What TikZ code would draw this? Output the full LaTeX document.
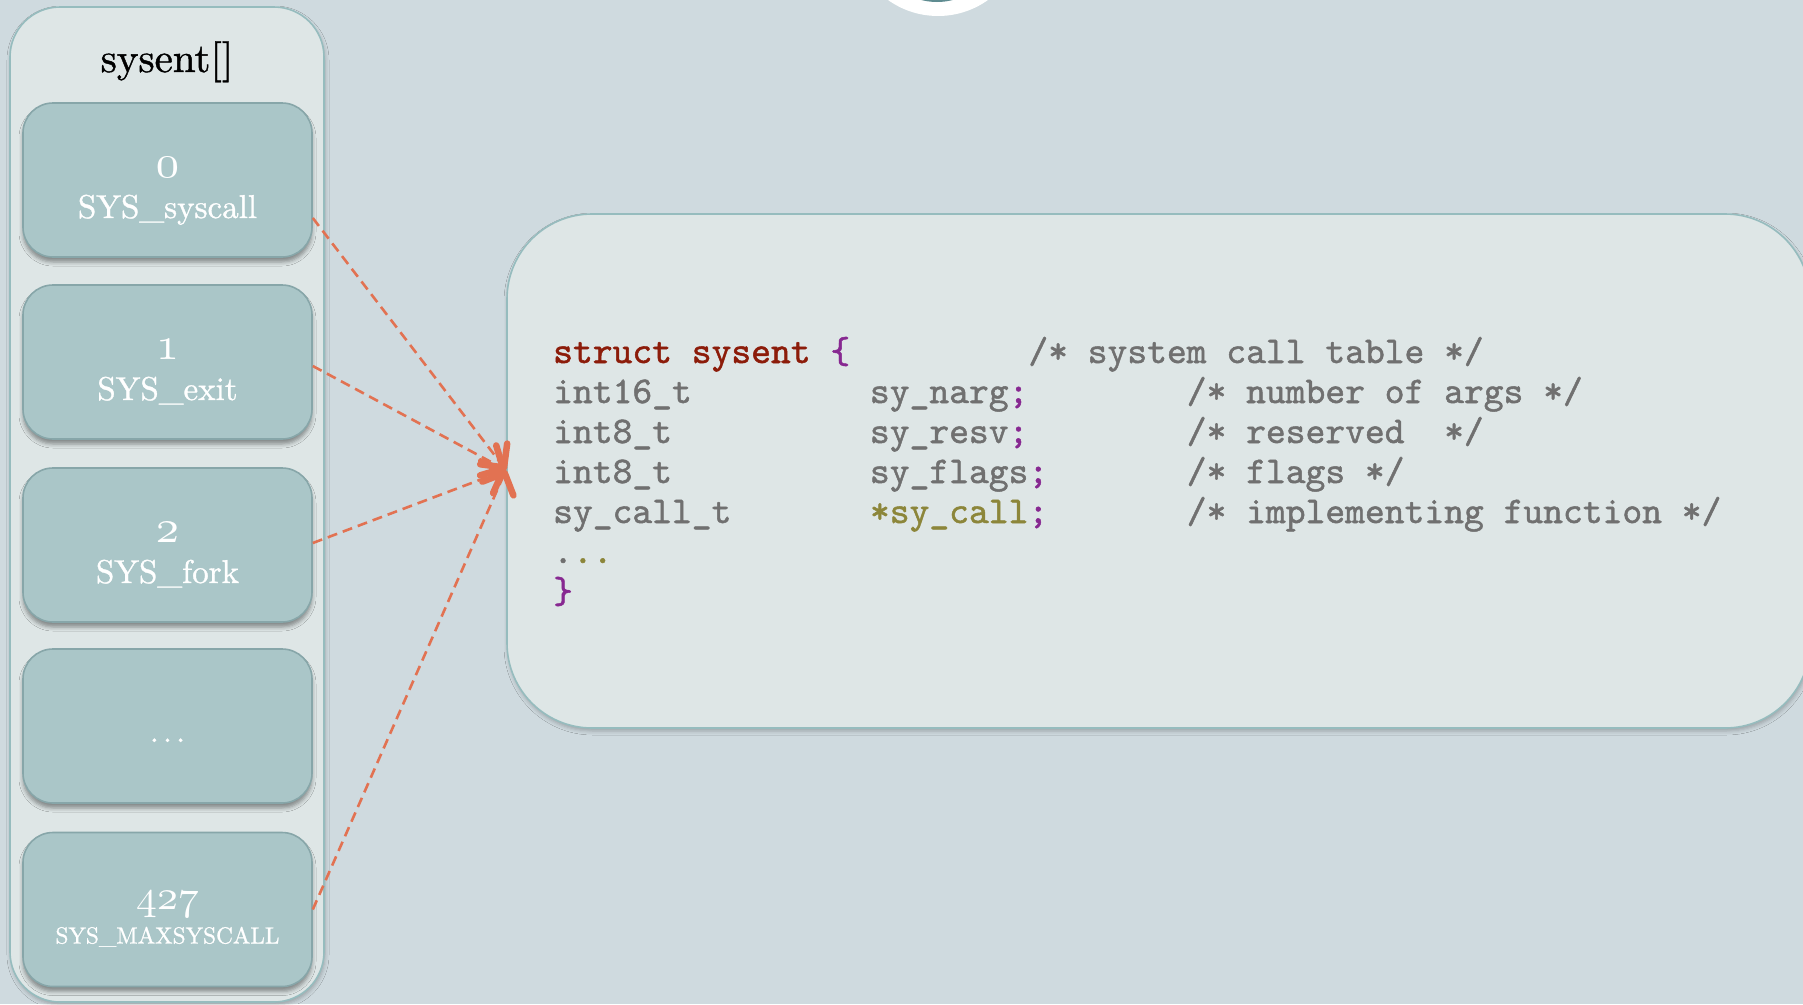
\documentclass[tikz,border=0pt]{standalone}
\usepackage{fontspec}
\usepackage{graphicx}
\usetikzlibrary{arrows.meta,shadows.blur}

% slightly heavier serif and typewriter faces
\newfontfamily\labelfont{lmroman10-regular.otf}[FakeBold=1]
\newfontfamily\codefont{lmmono10-regular.otf}[FakeBold=1.3]

\definecolor{bgc}{RGB}{207,218,223}
\definecolor{panelfill}{RGB}{222,230,230}
\definecolor{panelline}{RGB}{150,188,190}
\definecolor{slotfill}{RGB}{170,198,200}
\definecolor{slotline}{RGB}{135,166,169}
\definecolor{ptrcol}{RGB}{226,114,82}
\definecolor{kw}{RGB}{140,28,10}
\definecolor{pun}{RGB}{135,40,145}
\definecolor{gry}{RGB}{112,112,112}
\definecolor{olv}{RGB}{140,134,58}
\definecolor{knob}{RGB}{95,140,145}

% width of one monospaced character
\newlength\cw
\setlength\cw{19.8pt}

% old-style figures, scaled to a given height
\newcommand\osf[2]{\resizebox{!}{#1}{\usefont{OML}{lmm}{m}{it}#2}}

\begin{document}
\begin{tikzpicture}[x=1pt,y=-1pt,
  panelbox/.style={draw=panelline, line width=1.6pt, fill=panelfill,
    blur shadow={shadow xshift=1pt, shadow yshift=-3pt, shadow blur radius=4pt, shadow opacity=25}},
  slot/.style={draw=slotline, line width=1.6pt, fill=slotfill, rounded corners=30pt,
    minimum width=289pt, minimum height=154pt, inner sep=0pt,
    blur shadow={shadow xshift=0pt, shadow yshift=-5pt, shadow blur radius=4pt, shadow opacity=40}},
  num/.style={text=white, anchor=base, inner sep=0pt},
  sysname/.style={text=white, anchor=base, inner sep=0pt, font=\labelfont\fontsize{33}{40}\selectfont},
  codeline/.style={anchor=base west, inner sep=0pt, text=gry,
    font=\codefont\fontsize{37.714}{40}\selectfont},
  ptr/.style={draw=ptrcol, line width=2.6pt, dash pattern=on 10pt off 6pt,
    -{Straight Barb[length=17pt,width=34pt,line width=6.5pt,round]}}
]
\useasboundingbox (0,0) rectangle (1803,1004);
\fill[bgc] (0,0) rectangle (1803,1004);

% round badge at the top edge
\fill[white] (938,-70) circle[radius=86];
\fill[knob] (937,-60) circle[radius=62];

% the sysent[] table
\node[panelbox, rounded corners=50pt, minimum width=314pt, minimum height=995pt] (panel) at (167,504.5) {};
\node[anchor=base, inner sep=0pt, font=\labelfont\fontsize{41}{48}\selectfont] (title) at (167,72) {sysent[]};

\node[slot] (s0) at (167.5,180) {};
\node[slot] (s1) at (167.5,362) {};
\node[slot] (s2) at (167.5,545) {};
\node[slot] (s3) at (167.5,726) {};
\node[slot] (s4) at (167.5,909.5) {};

\node[num] (n0) at ([yshift=3pt]s0.center) {\osf{20pt}{0}};
\node[sysname] (m0) at ([yshift=-38pt]s0.center) {SYS\_syscall};
\node[num] (n1) at ([yshift=3pt]s1.center) {\osf{20pt}{1}};
\node[sysname] (m1) at ([yshift=-38pt]s1.center) {SYS\_exit};
\node[num] (n2) at ([yshift=3pt]s2.center) {\osf{20pt}{2}};
\node[sysname] (m2) at ([yshift=-38pt]s2.center) {SYS\_fork};
\node[sysname] (m3) at ([yshift=-16pt]s3.center) {.\kern4pt.\kern4pt.};
\node[num] (n4) at ([yshift=0pt]s4.center) {\osf{18pt}{427}};
\node[sysname, font=\labelfont\fontsize{23.3}{28}\selectfont] (m4) at ([yshift=-34pt]s4.center) {SYS\_MAXSYSCALL};

% struct sysent definition
\node[panelbox, rounded corners=85pt, minimum width=1303pt, minimum height=514pt] (code) at (1158.5,471) {};

\node[codeline] (c1) at (553,363) {\makebox[24\cw][l]{\textcolor{kw}{struct sysent} \textcolor{pun}{\{}}/* system call table */};
\node[codeline] (c2) at (553,403) {\makebox[16\cw][l]{int16\_t}\makebox[16\cw][l]{sy\_narg\textcolor{pun}{;}}/* number of args */};
\node[codeline] (c3) at (553,443) {\makebox[16\cw][l]{int8\_t}\makebox[16\cw][l]{sy\_resv\textcolor{pun}{;}}/* reserved\ \ */};
\node[codeline] (c4) at (553,483) {\makebox[16\cw][l]{int8\_t}\makebox[16\cw][l]{sy\_flags\textcolor{pun}{;}}/* flags */};
\node[codeline] (c5) at (553,523) {\makebox[16\cw][l]{sy\_call\_t}\makebox[16\cw][l]{\textcolor{olv}{*sy\_call}\textcolor{pun}{;}}/* implementing function */};
\node[codeline] (c6) at (553,563) {.\textcolor{olv}{..}};
\node[codeline] (c7) at (553,603) {\textcolor{pun}{\}}};

% pointers from table entries to the struct
\coordinate (hit) at (506,470);
\draw[ptr] ([yshift=-38pt]s0.east) -- (hit);
\draw[ptr] ([yshift=-4pt]s1.east) -- (hit);
\draw[ptr] ([yshift=2pt]s2.east) -- (hit);
\draw[ptr] (s4.east) -- (hit);
\end{tikzpicture}
\end{document}
